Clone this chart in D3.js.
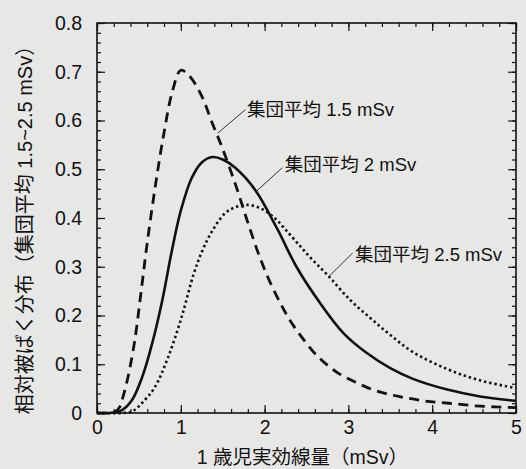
<!DOCTYPE html>
<html><head><meta charset="utf-8">
<script src="https://cdn.jsdelivr.net/npm/d3@7"></script>
<style>
html,body{margin:0;padding:0;background:#e7e7e5;}
svg{display:block;}
text{font-family:"Liberation Sans",Arial,"Noto Sans CJK JP",sans-serif;fill:#111;}
</style></head>
<body>
<svg id="c" width="526" height="469"></svg>
<script>
// ---- data ----
const xTicks = [0, 1, 2, 3, 4, 5];
const yTicks = [0, 0.1, 0.2, 0.3, 0.4, 0.5, 0.6, 0.7, 0.8];
const xTitle = "1 歳児実効線量（mSv）";
const yTitle = "相対被ばく分布（集団平均 1.5~2.5 mSv）";
const seriesNames = ["集団平均 1.5 mSv", "集団平均 2 mSv", "集団平均 2.5 mSv"];

const mean15 = [[0,0],[0.15,0],[0.22,0.003],[0.27,0.012],[0.31,0.033],[0.37,0.074],[0.45,0.148],[0.52,0.24],[0.6,0.35],[0.7,0.47],[0.8,0.575],[0.9,0.66],[1.0,0.703],[1.1,0.692],[1.25,0.65],[1.37,0.597],[1.49,0.546],[1.65,0.47],[1.79,0.396],[1.92,0.33],[2.04,0.278],[2.18,0.228],[2.3,0.191],[2.45,0.154],[2.64,0.115],[2.86,0.084],[3.1,0.062],[3.32,0.046],[3.6,0.034],[3.9,0.025],[4.2,0.02],[4.57,0.014],[5,0.011]];
const mean20 = [[0,0],[0.2,0.001],[0.3,0.006],[0.42,0.027],[0.54,0.074],[0.66,0.144],[0.78,0.232],[0.89,0.33],[1.0,0.415],[1.13,0.482],[1.25,0.514],[1.38,0.525],[1.5,0.52],[1.65,0.503],[1.89,0.457],[2.15,0.378],[2.38,0.3],[2.66,0.226],[2.94,0.164],[3.22,0.123],[3.5,0.092],[3.77,0.07],[4.18,0.048],[4.57,0.034],[5,0.025]];
const mean25 = [[0,0],[0.3,0],[0.42,0.003],[0.54,0.021],[0.69,0.053],[0.85,0.115],[1.01,0.197],[1.15,0.283],[1.25,0.33],[1.37,0.372],[1.53,0.41],[1.65,0.422],[1.79,0.427],[1.95,0.42],[2.12,0.4],[2.25,0.376],[2.4,0.347],[2.55,0.318],[2.74,0.285],[3.02,0.232],[3.26,0.195],[3.5,0.16],[3.77,0.125],[4.18,0.09],[4.57,0.067],[5,0.051]];

// annotation anchor points in data units: [lineStart, lineEnd, textPos]
const labelAnchors = [
  [[1.44,0.574],[1.77,0.622],[1.79,0.609]],
  [[1.89,0.453],[2.21,0.503],[2.24,0.496]],
  [[2.76,0.279],[3.05,0.328],[3.08,0.312]]
];

// ---- drawing ----
const svg = d3.select("#c");
const L = 97, R = 516, T = 23, B = 413;
const x = d3.scaleLinear().domain([0,5]).range([L,R]);
const y = d3.scaleLinear().domain([0,0.8]).range([B,T]);
const ink = "#111";

const xMinor = d3.range(0, 5.0001, 0.2);
const yMinor = d3.range(0, 0.8001, 0.02);

function styleAxis(g){
  g.select(".domain").remove();
  g.selectAll(".tick line").attr("stroke", ink).attr("stroke-width", 1.2);
  g.selectAll(".tick text").attr("font-size", 19.5).attr("fill", ink)
    .attr("font-family", "'Liberation Sans',Arial,sans-serif");
}

// minor ticks (all sides, inward)
svg.append("g").attr("transform",`translate(0,${B})`).call(d3.axisBottom(x).tickValues(xMinor).tickSize(-4).tickFormat("")).call(styleAxis);
svg.append("g").attr("transform",`translate(0,${T})`).call(d3.axisTop(x).tickValues(xMinor).tickSize(-4).tickFormat("")).call(styleAxis);
svg.append("g").attr("transform",`translate(${L},0)`).call(d3.axisLeft(y).tickValues(yMinor).tickSize(-4).tickFormat("")).call(styleAxis);
svg.append("g").attr("transform",`translate(${R},0)`).call(d3.axisRight(y).tickValues(yMinor).tickSize(-4).tickFormat("")).call(styleAxis);

// major ticks
svg.append("g").attr("transform",`translate(0,${B})`).call(d3.axisBottom(x).tickValues(xTicks).tickSize(-8).tickPadding(7).tickFormat(d3.format("d"))).call(styleAxis);
svg.append("g").attr("transform",`translate(0,${T})`).call(d3.axisTop(x).tickValues(xTicks).tickSize(-8).tickFormat("")).call(styleAxis);
svg.append("g").attr("transform",`translate(${L},0)`).call(d3.axisLeft(y).tickValues(yTicks).tickSize(-8).tickPadding(15).tickFormat(d => d===0 ? "0" : d3.format(".1f")(d))).call(styleAxis);
svg.append("g").attr("transform",`translate(${R},0)`).call(d3.axisRight(y).tickValues(yTicks).tickSize(-8).tickFormat("")).call(styleAxis);

// frame
svg.append("rect").attr("x",L).attr("y",T).attr("width",R-L).attr("height",B-T)
  .attr("fill","none").attr("stroke",ink).attr("stroke-width",1.6);

// curves
const line = d3.line().x(d=>x(d[0])).y(d=>y(d[1])).curve(d3.curveCatmullRom.alpha(0.5));
const styles = [
  {w:2.8, dash:"10,6.5"},
  {w:2.6, dash:null},
  {w:2.6, dash:"2.4,2.9"}
];
[mean15, mean20, mean25].forEach((s,i)=>{
  svg.append("path").datum(s).attr("d", line).attr("fill","none")
    .attr("stroke", ink).attr("stroke-width", styles[i].w)
    .attr("stroke-dasharray", styles[i].dash);
});

// annotations
labelAnchors.forEach((a,i)=>{
  svg.append("line").attr("x1",x(a[0][0])).attr("y1",y(a[0][1]))
    .attr("x2",x(a[1][0])).attr("y2",y(a[1][1]))
    .attr("stroke","#333").attr("stroke-width",1);
  svg.append("text").attr("x",x(a[2][0])).attr("y",y(a[2][1]))
    .attr("font-size",18.5).text(seriesNames[i]);
});

// axis titles
svg.append("text").attr("x",(L+R)/2 - 4).attr("y",464).attr("text-anchor","middle")
  .attr("font-size",19.5).text(xTitle);
svg.append("text").attr("transform",`translate(25,${(T+B)/2 + 7}) rotate(-90)`)
  .attr("text-anchor","middle").attr("dominant-baseline","central")
  .attr("font-size",20).text(yTitle);
</script>
</body></html>
